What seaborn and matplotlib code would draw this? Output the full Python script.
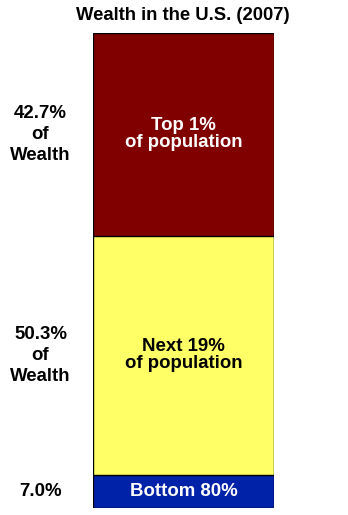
import matplotlib
matplotlib.use("Agg")
import matplotlib.pyplot as plt
import matplotlib.transforms as mtransforms
import seaborn as sns
import pandas as pd

groups = ["Top 1%", "Next 19%", "Bottom 80%"]
shares = [42.7, 50.3, 7.0]
inner_labels = ["Top 1%\nof population", "Next 19%\nof population", "Bottom 80%"]
left_labels = ["42.7%\nof\nWealth", "50.3%\nof\nWealth", "7.0%"]
colors = ["#800000", "#FFFF66", "#0022A8"]
text_colors = ["white", "black", "white"]
title = "Wealth in the U.S. (2007)"

sns.set_theme(style="white")
plt.rcParams["font.family"] = ["Liberation Sans", "DejaVu Sans"]

fig = plt.figure(figsize=(3.48, 5.15), dpi=100)
ax = fig.add_axes([93/348, 7/515, 181/348, 475/515])

# cumulative tops: stack drawn from the top down
tops = []
run = 0
for s in reversed(shares):
    run += s
    tops.append(run)
tops = list(reversed(tops))  # [100, 57.3, 7.0]

for g, top, c in zip(groups, tops, colors):
    df = pd.DataFrame({"x": ["all"], "y": [top]})
    sns.barplot(data=df, x="x", y="y", color=c, saturation=1, width=0.8,
                edgecolor="black", linewidth=1.0, ax=ax)

ax.set_xlim(-0.4, 0.4)
ax.set_ylim(0, 100)
ax.axis("off")

trans = mtransforms.blended_transform_factory(ax.transAxes, ax.transData)
for top, s, lab, ilab, tc in zip(tops, shares, left_labels, inner_labels, text_colors):
    mid = top - s / 2
    ax.text(0, mid, ilab, ha="center", va="center", color=tc, fontsize=13.4,
            fontweight="bold", linespacing=1.0)
    ax.text(-0.29, mid, lab, transform=trans, ha="center", va="center",
            color="black", fontsize=13.4, fontweight="bold", linespacing=1.3)

fig.text(183/348, 1 - 15/515, title, ha="center", va="center", fontsize=13.3,
         fontweight="bold", color="black")

fig.savefig("out.png", dpi=100)
